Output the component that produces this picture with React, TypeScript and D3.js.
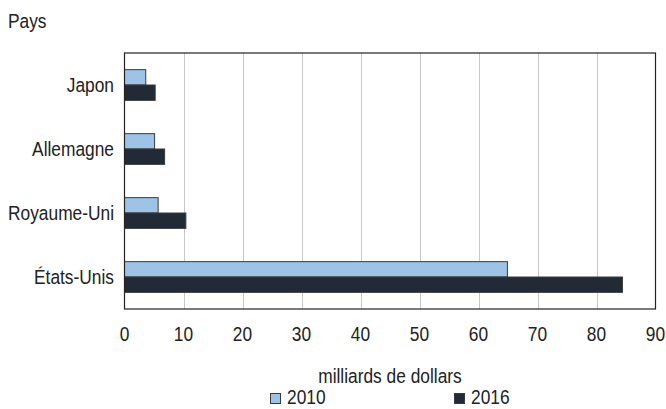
import React from "react";
import * as d3 from "d3";

const countries = ["Japon", "Allemagne", "Royaume-Uni", "États-Unis"];
const seriesNames = ["2010", "2016"];
const values2010 = [3.6, 5.1, 5.7, 64.9];
const values2016 = [5.2, 6.8, 10.4, 84.4];
const xTicks = [0, 10, 20, 30, 40, 50, 60, 70, 80, 90];
const colors = ["#9dc3e6", "#222a35"];

const W = 666;
const H = 409;
const FONT = "'Liberation Sans', Arial, sans-serif";
const FS = 19.5;
const SX = 0.89;

function T({
  x,
  y,
  anchor = "start",
  dy,
  children,
}: {
  x: number;
  y: number;
  anchor?: string;
  dy?: string;
  children: React.ReactNode;
}) {
  return (
    <text
      transform={`translate(${x},${y}) scale(${SX},1)`}
      textAnchor={anchor}
      dy={dy}
      fontSize={FS}
      fill="#222"
    >
      {children}
    </text>
  );
}

export default function App() {
  const left = 124.5;
  const right = 655.5;
  const top = 53;
  const bottom = 309;
  const x = d3.scaleLinear().domain([0, 90]).range([left, right]);
  const y0 = d3.scaleBand<string>().domain(countries).range([top, bottom]);
  const y1 = d3
    .scaleBand<string>()
    .domain(seriesNames)
    .range([0, y0.bandwidth()])
    .paddingInner(0)
    .paddingOuter(1.085);
  const data = [values2010, values2016];

  return (
    <svg
      width={W}
      height={H}
      style={{ position: "absolute", left: 0, top: 0, fontFamily: FONT }}
    >
      <rect x={0} y={0} width={W} height={H} fill="#fff" />
      <T x={8} y={28}>Pays</T>
      {xTicks.map((t) =>
        t === 0 || t === 90 ? null : (
          <line
            key={"g" + t}
            x1={Math.round(x(t)) + 0.5}
            x2={Math.round(x(t)) + 0.5}
            y1={top}
            y2={bottom}
            stroke="#c8c8c8"
            strokeWidth={1}
          />
        )
      )}
      {countries.map((c, i) =>
        seriesNames.map((s, j) => (
          <rect
            key={c + s}
            x={x(0)}
            y={(y0(c) as number) + (y1(s) as number)}
            width={x(data[j][i]) - x(0)}
            height={y1.bandwidth()}
            fill={colors[j]}
            stroke="#3a3a3a"
            strokeWidth={1}
          />
        ))
      )}
      <rect
        x={left}
        y={top}
        width={right - left}
        height={bottom - top}
        fill="none"
        stroke="#222"
        strokeWidth={1.2}
      />
      {countries.map((c) => (
        <T
          key={"l" + c}
          x={114}
          y={(y0(c) as number) + y0.bandwidth() / 2}
          dy="0.36em"
          anchor="end"
        >
          {c}
        </T>
      ))}
      {xTicks.map((t) => (
        <T key={"t" + t} x={x(t)} y={341} anchor="middle">
          {t}
        </T>
      ))}
      <T x={(left + right) / 2} y={383} anchor="middle">
        milliards de dollars
      </T>
      {seriesNames.map((s, j) => {
        const lx = j === 0 ? 270 : 454;
        return (
          <g key={"lg" + s}>
            <rect
              x={lx + 0.5}
              y={393.5}
              width={10}
              height={10}
              fill={colors[j]}
              stroke="#3a3a3a"
              strokeWidth={1}
            />
            <T x={lx + 17} y={404}>
              {s}
            </T>
          </g>
        );
      })}
    </svg>
  );
}
